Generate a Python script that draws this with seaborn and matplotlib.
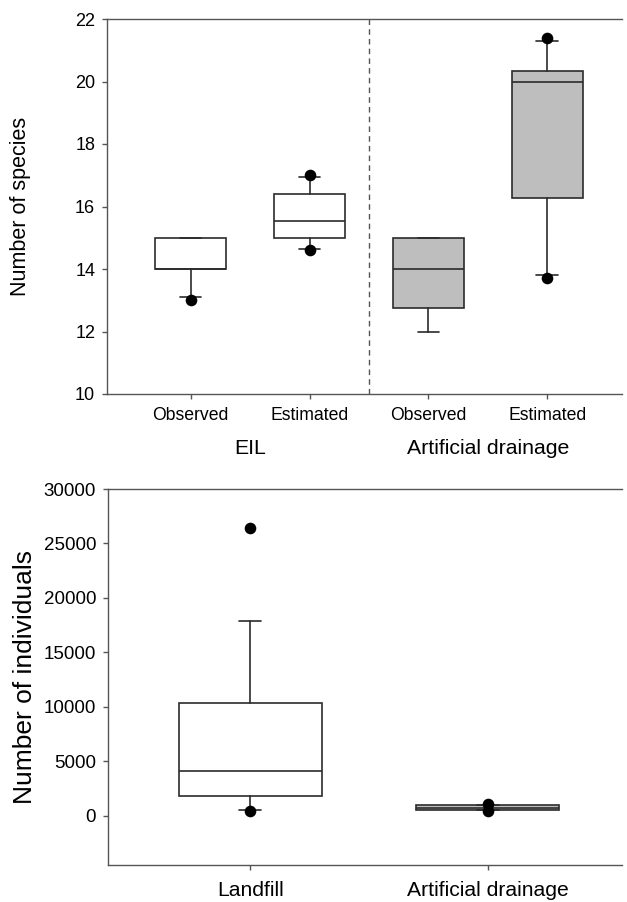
import numpy as np
import pandas as pd
import matplotlib
matplotlib.use("Agg")
import matplotlib.pyplot as plt
import matplotlib.transforms as mtransforms
import seaborn as sns

sns.set_theme(style="ticks")
plt.rcParams['font.family'] = ['Liberation Sans', 'DejaVu Sans']

# ---------------- Data: top panel (number of species) ----------------
species_groups = ["EIL", "Artificial drainage"]
species_labels = ["Observed", "Estimated", "Observed", "Estimated"]
species_q1 = [14.0, 15.0, 12.75, 16.27]
species_med = [14.0, 15.55, 14.0, 20.0]
species_q3 = [15.0, 16.4, 15.0, 20.33]
species_whislo = [13.1, 14.65, 12.0, 13.8]
species_whishi = [15.0, 16.95, 15.0, 21.3]
species_points = [[13.0], [14.6, 17.0], [], [13.7, 21.4]]
species_yticks = [10, 12, 14, 16, 18, 20, 22]

# ---------------- Data: bottom panel (number of individuals) ----------------
ind_labels = ["Landfill", "Artificial drainage"]
ind_q1 = [1800, 540]
ind_med = [4100, 760]
ind_q3 = [10400, 970]
ind_whislo = [530, 540]
ind_whishi = [17900, 970]
ind_points = [[450, 26400], [430, 1080]]
ind_yticks = [0, 5000, 10000, 15000, 20000, 25000, 30000]

LINE = "#2b2b2b"
SPINE = "#555555"
GREY = "#bebebe"


def make_stats(q1, med, q3, lo, hi):
    return [dict(q1=a, med=b, q3=c, whislo=d, whishi=e, fliers=[])
            for a, b, c, d, e in zip(q1, med, q3, lo, hi)]


def draw_boxes(ax, stats, fills, capw):
    pos = np.arange(len(stats))
    bp = ax.bxp(stats, positions=pos, widths=0.6, patch_artist=True,
                showfliers=False, capwidths=capw,
                boxprops=dict(edgecolor=LINE, linewidth=1.2),
                medianprops=dict(color=LINE, linewidth=1.2),
                whiskerprops=dict(color=LINE, linewidth=1.2),
                capprops=dict(color=LINE, linewidth=1.2))
    for patch, fc in zip(bp["boxes"], fills):
        patch.set_facecolor(fc)
    return bp


def draw_points(ax, points):
    xs = [i for i, pts in enumerate(points) for _ in pts]
    ys = [p for pts in points for p in pts]
    df = pd.DataFrame({"x": xs, "y": ys})
    sns.scatterplot(data=df, x="x", y="y", ax=ax, color="black", s=70,
                    edgecolor="black", linewidth=0, zorder=5, legend=False)


def style_axes(ax):
    for side in ["left", "bottom", "top"]:
        ax.spines[side].set_color(SPINE)
        ax.spines[side].set_linewidth(1.0)
    ax.spines["right"].set_visible(False)
    ax.tick_params(axis="both", direction="out", length=3.5, width=1.0,
                   color=SPINE)
    ax.set_xlabel("")


fig = plt.figure(figsize=(6.27, 9.02), dpi=100)

# ---------------- Top panel ----------------
ax1 = fig.add_axes([107 / 627, 1 - 394 / 902, 515 / 627, 375 / 902])
stats1 = make_stats(species_q1, species_med, species_q3, species_whislo, species_whishi)
draw_boxes(ax1, stats1, ["white", "white", GREY, GREY], 0.18)
draw_points(ax1, species_points)
ax1.axvline(1.5, color=SPINE, linestyle=(0, (4, 3)), linewidth=1.0)
ax1.set_xlim(-0.705, 3.63)
ax1.set_ylim(10, 22)
ax1.set_yticks(species_yticks)
ax1.set_yticklabels([str(v) for v in species_yticks], fontsize=13)
ax1.set_xticks(np.arange(len(species_labels)))
ax1.set_xticklabels(species_labels, fontsize=12.7)
style_axes(ax1)
ax1.tick_params(axis="x", pad=6)
ax1.tick_params(axis="y", pad=5)
ax1.set_ylabel("Number of species", fontsize=15.5, color="black")
ax1.yaxis.set_label_coords(-0.148, 0.5)
trans = mtransforms.blended_transform_factory(ax1.transData, ax1.transAxes)
for i, g in enumerate(species_groups):
    ax1.text(2 * i + 0.5, -0.16, g, transform=trans, ha="center",
             va="baseline", fontsize=15.3, color="black")

# ---------------- Bottom panel ----------------
ax2 = fig.add_axes([108 / 627, 1 - 865 / 902, 514 / 627, 376 / 902])
stats2 = make_stats(ind_q1, ind_med, ind_q3, ind_whislo, ind_whishi)
draw_boxes(ax2, stats2, ["white", GREY], 0.093)
draw_points(ax2, ind_points)
ax2.set_xlim(-0.6, 1.566)
ax2.set_ylim(-4500, 30000)
ax2.set_yticks(ind_yticks)
ax2.set_yticklabels([str(v) for v in ind_yticks], fontsize=13.5)
ax2.set_xticks(np.arange(len(ind_labels)))
ax2.set_xticklabels(ind_labels, fontsize=15.2)
style_axes(ax2)
ax2.tick_params(axis="x", pad=8)
ax2.tick_params(axis="y", pad=5)
ax2.set_ylabel("Number of individuals", fontsize=19, color="black")
ax2.yaxis.set_label_coords(-0.138, 0.5)

for ax in (ax1, ax2):
    for lab in ax.get_xticklabels() + ax.get_yticklabels():
        lab.set_color("black")

fig.savefig("out.png", dpi=100)
